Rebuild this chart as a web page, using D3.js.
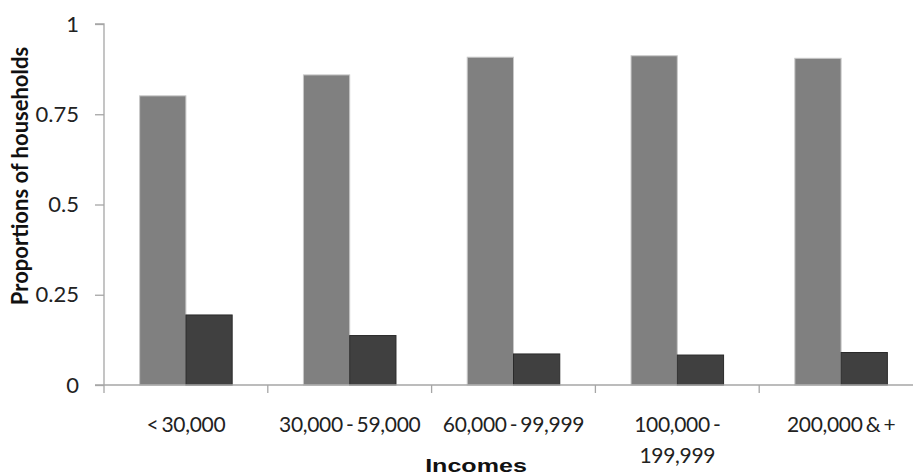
<!DOCTYPE html>
<html>
<head>
<meta charset="utf-8">
<script src="https://cdn.jsdelivr.net/npm/d3@7"></script>
<style>
  body { margin: 0; background: #fff; }
  svg { display: block; }
  .tick text { font-family: Lato, "Open Sans", sans-serif; fill: #222; }
</style>
</head>
<body>
<script>
// incomes on the x axis, two series of proportions
var categories = ["< 30,000", "30,000 - 59,000", "60,000 - 99,999", "100,000 -\n199,999", "200,000 & +"];
var seriesA = [0.801, 0.859, 0.908, 0.912, 0.905];
var seriesB = [0.194, 0.137, 0.086, 0.083, 0.090];
var yTicks = [0, 0.25, 0.5, 0.75, 1];
var yTickLabels = ["0", "0.25", "0.5", "0.75", "1"];

var width = 913, height = 476;
var margin = {top: 24, right: -10, bottom: 91, left: 104};

var svg = d3.select("body").append("svg")
    .attr("width", width)
    .attr("height", height);

var x = d3.scaleBand()
    .domain(categories)
    .range([margin.left, width - margin.right])
    .paddingInner(0)
    .paddingOuter(0);

var xInner = d3.scaleBand()
    .domain(["a", "b"])
    .range([0, x.bandwidth()])
    .paddingOuter(0.77)
    .paddingInner(0);

var y = d3.scaleLinear()
    .domain([0, 1])
    .range([height - margin.bottom, margin.top]);

// bars
var groups = svg.append("g").selectAll("g")
    .data(categories)
    .join("g")
    .attr("transform", function (d) { return "translate(" + x(d) + ",0)"; });

groups.append("rect")
    .attr("x", xInner("a"))
    .attr("width", xInner.bandwidth())
    .attr("y", function (d, i) { return y(seriesA[i]); })
    .attr("height", function (d, i) { return y(0) - y(seriesA[i]); })
    .attr("fill", "#808080")
    .attr("stroke", "#c8c8c8")
    .attr("stroke-width", 1);

groups.append("rect")
    .attr("x", xInner("b"))
    .attr("width", xInner.bandwidth())
    .attr("y", function (d, i) { return y(seriesB[i]); })
    .attr("height", function (d, i) { return y(0) - y(seriesB[i]); })
    .attr("fill", "#404040")
    .attr("stroke", "#2a2a2a")
    .attr("stroke-width", 1);

// y axis
var yAxis = svg.append("g")
    .attr("transform", "translate(" + margin.left + ",0)")
    .call(d3.axisLeft(y).tickValues(yTicks)
        .tickFormat(function (d, i) { return yTickLabels[i]; })
        .tickSize(9).tickPadding(16));
yAxis.selectAll("path, line").attr("stroke", "#a6a6a6").attr("stroke-width", 1.3);
yAxis.select(".domain").attr("d", "M-9," + y(1) + "H0V" + y(0));
yAxis.selectAll("text").attr("font-size", 22).attr("fill", "#2a2a2a");

// x axis
var xAxis = svg.append("g")
    .attr("transform", "translate(0," + y(0) + ")")
    .call(d3.axisBottom(x).tickSize(0).tickFormat(""));
xAxis.select(".domain").attr("stroke", "#a6a6a6").attr("stroke-width", 1.3)
    .attr("d", "M" + (margin.left - 9) + ",0H" + width);

// tick marks on the category boundaries
svg.append("g").selectAll("line")
    .data(categories)
    .join("line")
    .attr("x1", function (d) { return x(d); })
    .attr("x2", function (d) { return x(d); })
    .attr("y1", y(0))
    .attr("y2", y(0) + 8)
    .attr("stroke", "#a6a6a6")
    .attr("stroke-width", 1.3);

// category labels, may wrap on two lines
var labels = svg.append("g").selectAll("text")
    .data(categories)
    .join("text")
    .attr("x", function (d) { return x(d) + x.bandwidth() / 2; })
    .attr("y", 432)
    .attr("text-anchor", "middle")
    .attr("font-family", "Lato, 'Open Sans', sans-serif")
    .attr("font-size", 21)
    .attr("letter-spacing", -0.3)
    .attr("word-spacing", -2)
    .attr("fill", "#222");
labels.each(function (d) {
    var t = d3.select(this);
    d.split("\n").forEach(function (line, k) {
        t.append("tspan")
            .attr("x", x(d) + x.bandwidth() / 2)
            .attr("dy", k === 0 ? 0 : 31)
            .text(line);
    });
});

// axis titles
svg.append("text")
    .attr("transform", "translate(28,176) rotate(-90)")
    .attr("text-anchor", "middle")
    .attr("font-family", "Lato, 'Open Sans', sans-serif")
    .attr("font-weight", "bold")
    .attr("font-size", 22)
    .attr("fill", "#111")
    .text("Proportions of households");

svg.append("text")
    .attr("transform", "translate(476,472) scale(1.32,1)")
    .attr("text-anchor", "middle")
    .attr("font-family", "'Liberation Sans', Arial, sans-serif")
    .attr("font-weight", "bold")
    .attr("font-size", 19)
    .attr("fill", "#111")
    .text("Incomes");
</script>
</body>
</html>
